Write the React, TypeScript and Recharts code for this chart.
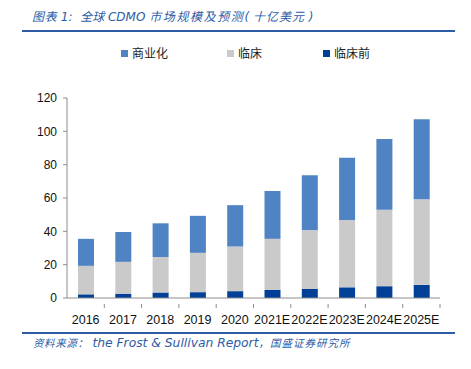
import React from 'react';
import { BarChart, Bar, XAxis, YAxis, Legend } from 'recharts';

const years = ['2016', '2017', '2018', '2019', '2020', '2021E', '2022E', '2023E', '2024E', '2025E'];
const preclinical = [2.2, 2.6, 3.3, 3.5, 4.1, 4.8, 5.4, 6.4, 7.1, 7.9];
const clinical = [17.1, 19.1, 21.3, 23.6, 26.8, 30.7, 35.4, 40.4, 45.8, 51.4];
const commercial = [16.2, 17.9, 20.2, 22.2, 24.8, 28.7, 32.8, 37.4, 42.5, 48.0];
const yTicks = [0, 20, 40, 60, 80, 100, 120];

const seriesNames = { pre: '临床前', clin: '临床', comm: '商业化' };
const colors = { pre: '#023F97', clin: '#CACACA', comm: '#4F83C4' };

const data = years.map((y, i) => ({
  year: y,
  pre: preclinical[i],
  clin: clinical[i],
  comm: commercial[i],
}));

const legendItems = [
  { key: 'comm', left: 121 },
  { key: 'clin', left: 227 },
  { key: 'pre', left: 323 },
];

const blue = '#2D5CA6';
const axisGrey = '#8c8c8c';
const font = '"Liberation Sans", Arial, sans-serif';
const latin = '"DejaVu Sans", Verdana, sans-serif';
const cjk = '"Noto Sans CJK SC", "Liberation Sans", sans-serif';

const titleParts = [
  { text: '图表', family: cjk, size: 12, ls: 0.5 },
  { text: ' 1:  ', family: latin, size: 12, ls: 0 },
  { text: '全球', family: cjk, size: 12, ls: 0 },
  { text: ' CDMO ', family: latin, size: 12, ls: 0 },
  { text: '市场规模及预测', family: cjk, size: 12, ls: 1.6 },
  { text: '( ', family: latin, size: 12, ls: 0 },
  { text: '十亿美元', family: cjk, size: 12, ls: 1 },
  { text: ' )', family: latin, size: 12, ls: 0 },
];

const footerParts = [
  { text: '资料来源：', family: cjk, size: 10.5, ls: 0.6 },
  { text: ' the Frost & Sullivan Report', family: latin, size: 12.3, ls: 0 },
  { text: '，国盛证券研究所', family: cjk, size: 10.5, ls: 1 },
];

const TextLine = ({ parts, left, centerY }: { parts: any[]; left: number; centerY: number }) => (
  <div
    style={{
      position: 'absolute',
      left,
      top: centerY - 10,
      height: 20,
      lineHeight: '20px',
      fontStyle: 'italic',
      color: blue,
      whiteSpace: 'pre',
    }}
  >
    {parts.map((p, i) => (
      <span key={i} style={{ fontFamily: p.family, fontSize: p.size, letterSpacing: p.ls }}>
        {p.text}
      </span>
    ))}
  </div>
);

const LegendContent = () => (
  <div style={{ position: 'relative', width: 471, height: 16 }}>
    {legendItems.map((it) => (
      <div
        key={it.key}
        style={{
          position: 'absolute',
          left: it.left,
          top: 0,
          display: 'flex',
          alignItems: 'center',
          fontFamily: cjk,
          fontSize: 12,
          color: '#222',
          lineHeight: '16px',
        }}
      >
        <span style={{ display: 'inline-block', width: 7, height: 7, background: colors[it.key], marginRight: 4 }} />
        {seriesNames[it.key]}
      </div>
    ))}
  </div>
);

const XTick = (props: any) => {
  const { x, y, payload, index, visibleTicksCount } = props;
  const half = payload && payload.offset ? payload.offset : 0;
  const axisY = y - 8;
  const isLast = index === (visibleTicksCount || years.length) - 1;
  return (
    <g>
      {index > 0 && (
        <line x1={x - half} x2={x - half} y1={axisY} y2={axisY + 4} stroke={axisGrey} />
      )}
      {isLast && (
        <line x1={x + half} x2={x + half} y1={axisY} y2={axisY + 4} stroke={axisGrey} />
      )}
      <text x={x} y={y} dy={12} textAnchor="middle" fontFamily={font} fontSize={12.5} fill="#111">
        {payload.value}
      </text>
    </g>
  );
};

export default function App() {
  return (
    <div style={{ position: 'absolute', left: 0, top: 0, width: 471, height: 369, background: '#fff', overflow: 'hidden' }}>
      <TextLine parts={titleParts} left={32} centerY={16} />
      <div style={{ position: 'absolute', left: 22, top: 30, width: 433, height: 2, background: blue }} />
      <BarChart
        width={471}
        height={369}
        data={data}
        margin={{ top: 82, right: 31, bottom: 41, left: 17 }}
        barSize={16}
      >
        <Legend
          content={<LegendContent />}
          verticalAlign="top"
          wrapperStyle={{ position: 'absolute', left: 0, top: 45, width: 471 }}
        />
        <XAxis
          dataKey="year"
          tickLine={false}
          axisLine={{ stroke: axisGrey }}
          tick={<XTick />}
          interval={0}
          height={30}
          tickMargin={8}
        />
        <YAxis
          domain={[0, 120]}
          ticks={yTicks}
          width={50}
          tickSize={4}
          tickLine={{ stroke: axisGrey }}
          axisLine={{ stroke: axisGrey }}
          tick={{ fontFamily: font, fontSize: 12, fill: '#111' }}
          tickMargin={6}
        />
        <Bar dataKey="pre" stackId="a" fill={colors.pre} isAnimationActive={false} />
        <Bar dataKey="clin" stackId="a" fill={colors.clin} isAnimationActive={false} />
        <Bar dataKey="comm" stackId="a" fill={colors.comm} isAnimationActive={false} />
      </BarChart>
      <div style={{ position: 'absolute', left: 22, top: 332, width: 433, height: 2, background: blue }} />
      <TextLine parts={footerParts} left={33} centerY={342} />
    </div>
  );
}
